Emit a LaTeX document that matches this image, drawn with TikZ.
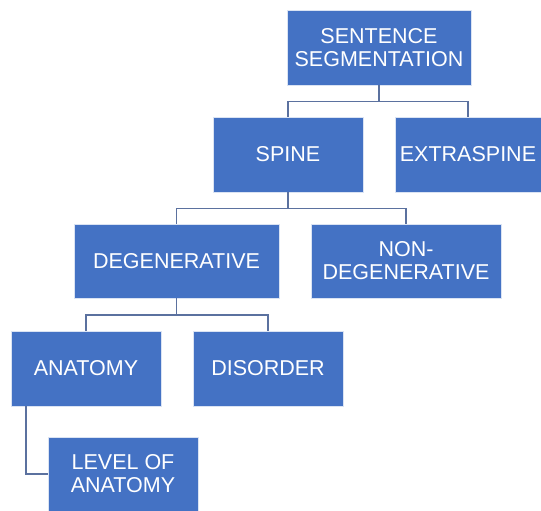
\documentclass[tikz,border=0pt]{standalone}
\usepackage{fontspec}
\setmainfont{Liberation Sans}
\definecolor{boxblue}{HTML}{4472C4}
\definecolor{linkblue}{HTML}{5B719F}
\begin{document}
\begin{tikzpicture}[x=1pt,y=-1pt,
    box/.style={fill=boxblue,draw=white!80!boxblue,line width=0.6pt,text=white,
      align=center,inner sep=0pt,font=\fontsize{21.5}{23}\selectfont},
    link/.style={draw=linkblue,line width=1.6pt}]
      \useasboundingbox (0,0) rectangle (541,511);
      \node[box,minimum width=184,minimum height=75] (sent) at (379,47.5) {SENTENCE\\SEGMENTATION};
      \node[box,minimum width=150,minimum height=75] (spine) at (288,154.5) {SPINE};
      \node[box,minimum width=146,minimum height=75] (extra) at (468,154.5) {EXTRASPINE};
      \node[box,minimum width=205,minimum height=74] (degen) at (176.5,261) {DEGENERATIVE};
      \node[box,minimum width=190,minimum height=74] (nondegen) at (406,261) {NON-\\DEGENERATIVE};
      \node[box,minimum width=150,minimum height=75] (anat) at (86,368.5) {ANATOMY};
      \node[box,minimum width=150,minimum height=75] (disorder) at (268,368.5) {DISORDER};
      \node[box,minimum width=150,minimum height=74] (level) at (123,474) {LEVEL OF\\ANATOMY};
      \begin{scope}[link]
        \draw (sent.south) -- ++(0,16) -| (spine.north);
        \draw (sent.south) -- ++(0,16) -| (extra.north);
        \draw (spine.south) -- ++(0,16) -| (degen.north);
        \draw (spine.south) -- ++(0,16) -| (nondegen.north);
        \draw (degen.south) -- ++(0,16.5) -| (anat.north);
        \draw (degen.south) -- ++(0,16.5) -| (disorder.north);
        \draw ([xshift=15]anat.south west) |- (level.west);
      \end{scope}
    \end{tikzpicture}
\end{document}
